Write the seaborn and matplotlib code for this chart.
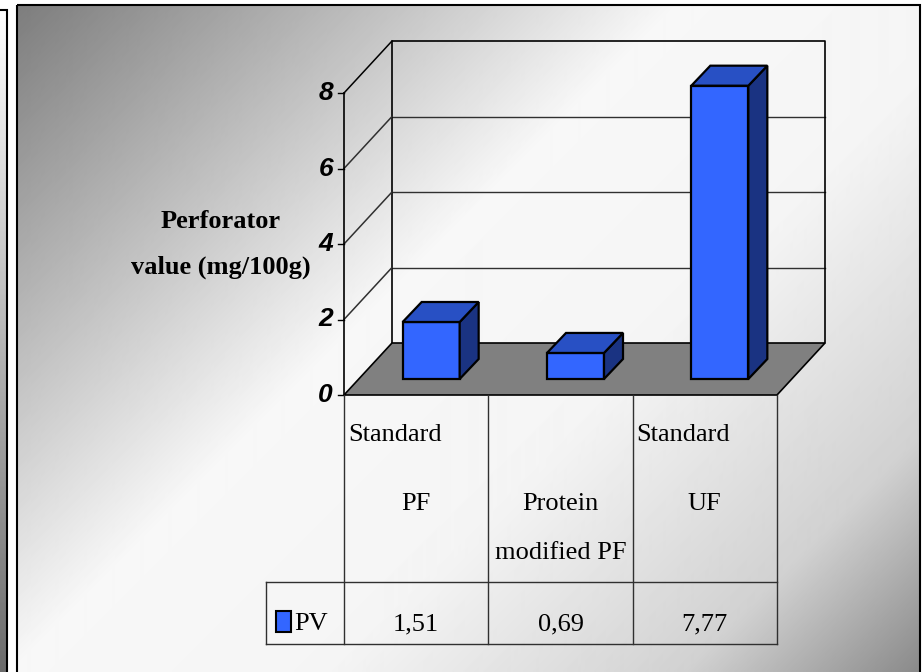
import numpy as np
import matplotlib
matplotlib.use("Agg")
import matplotlib.pyplot as plt
from matplotlib.patches import Polygon, Rectangle
import seaborn as sns

# ---- data -------------------------------------------------------------
categories = ["Standard PF", "Protein modified PF", "Standard UF"]
pv_values = [1.51, 0.69, 7.77]
series_name = "PV"
y_ticks = [0, 2, 4, 6, 8]
y_label_lines = ["Perforator", "value (mg/100g)"]
# header text of each data-table column: (text, line slot, alignment)
header_lines = [
    [("Standard", 0, "left"), ("PF", 1, "center")],
    [("Protein", 1, "center"), ("modified PF", 2, "center")],
    [("Standard", 0, "left"), ("UF", 1, "center")],
]

# ---- style ------------------------------------------------------------
sns.set_theme(style="white")
plt.rcParams["font.family"] = ["Liberation Serif", "DejaVu Serif"]
plt.rcParams["text.color"] = "black"

FRONT_C = "#3366FF"
TOP_C = "#2850C4"
SIDE_C = "#1A3382"
FLOOR_C = "#808080"
GRID_C = "#303030"
TXT_SIZE = 19

W, H, DPI = 922, 672, 100
fig = plt.figure(figsize=(W / DPI, H / DPI), dpi=DPI)
fig.patch.set_facecolor("white")

# ---- background (pixel coordinates) ----------------------------------
bg = fig.add_axes([0, 0, 1, 1])
bg.set_axis_off()

# chart area with a diagonal grey-white-grey gradient
cx0, cy0, cx1 = 17, 5, 920
xs = np.arange(cx0, cx1) + 0.5
ys = np.arange(cy0, H) + 0.5
X, Y = np.meshgrid(xs, ys)
t = ((X - cx0) + (Y - cy0)) / ((cx1 - cx0) + (H - cy0))
shade = np.interp(t, [0.0, 0.42, 0.62, 0.85, 1.0],
                  [0.49, 0.97, 0.96, 0.82, 0.54])
bg.imshow(shade, cmap="gray", vmin=0, vmax=1, extent=(cx0, cx1, H, cy0),
          interpolation="bilinear", zorder=0)
bg.add_patch(Rectangle((cx0, cy0), cx1 - cx0, H + 20, fill=False,
                       edgecolor="black", lw=1.5, zorder=1))

# neighbouring panel strip at the far left
ys2 = np.arange(9, H) + 0.5
strip = np.interp(ys2, [9, H], [1.0, 0.42])[:, None] * np.ones((1, 7))
bg.imshow(strip, cmap="gray", vmin=0, vmax=1, extent=(0, 7, H, 9),
          interpolation="bilinear", zorder=0)
bg.add_patch(Rectangle((-5, 9.5), 12, H + 20, fill=False,
                       edgecolor="black", lw=1.5, zorder=1))

bg.set_xlim(0, W)
bg.set_ylim(H, 0)
bg.set_aspect("auto")

# y-axis title
for txt, yy in zip(y_label_lines, [222, 267]):
    bg.text(221, yy, txt, ha="center", va="center", fontsize=19,
            fontweight="bold", color="black")

# ---- bar plane axes --------------------------------------------------
ax = fig.add_axes([359 / W, (H - 379) / H, 433 / W, 302 / H])
ax.patch.set_alpha(0)
sns.barplot(x=categories, y=pv_values, ax=ax, color=FRONT_C, saturation=1,
            width=0.395, edgecolor="black", linewidth=1.6, zorder=6)
bars = list(ax.patches)
for r in bars:
    r.set_clip_on(False)
ax.set_xlim(-0.5, 2.5)
ax.set_ylim(0, 8)
ax.set_axis_off()

# pixel -> data conversion for the oblique depth offsets
o = ax.transData.transform((0, 0))
sx = ax.transData.transform((1, 0))[0] - o[0]
sy = ax.transData.transform((0, 1))[1] - o[1]


def P(x, y, d=(0, 0)):
    return (x + d[0] / sx, y + d[1] / sy)


def seg(a, b, **kw):
    ax.plot([a[0], b[0]], [a[1], b[1]], clip_on=False,
            solid_capstyle="projecting", **kw)


FRONT = (-15, -16)   # front edge of the floor
BACK = (33, 36)      # back wall
DEPTH = (19, 20)     # bar depth
xl, xr = -0.5, 2.5
ymax = y_ticks[-1]

# back wall frame and gridlines
for v in y_ticks[1:-1]:
    seg(P(xl, v, BACK), P(xr, v, BACK), color=GRID_C, lw=1.0, zorder=1)
frame = [P(xl, 0, BACK), P(xl, ymax, BACK), P(xr, ymax, BACK), P(xr, 0, BACK)]
ax.plot([p[0] for p in frame], [p[1] for p in frame], color="black", lw=1.2,
        zorder=1, clip_on=False)

# side wall diagonals and front value axis
for v in y_ticks[1:]:
    seg(P(xl, v, FRONT), P(xl, v, BACK),
        color="black" if v == ymax else GRID_C, lw=1.1, zorder=1)
seg(P(xl, 0, FRONT), P(xl, ymax, FRONT), color="black", lw=1.2, zorder=3)
for v in y_ticks:
    seg(P(xl, v, FRONT), P(xl, v, (FRONT[0] - 6, FRONT[1])),
        color="black", lw=1.0, zorder=3)
    lp = P(xl, v, (FRONT[0] - 11, FRONT[1]))
    ax.text(lp[0], lp[1], f"{v:g}", ha="right", va="center", fontsize=19,
            fontweight="bold", fontstyle="italic",
            family=["Liberation Sans", "DejaVu Sans"], color="black")

# floor
floor = Polygon([P(xl, 0, FRONT), P(xr, 0, FRONT), P(xr, 0, BACK), P(xl, 0, BACK)],
                closed=True, facecolor=FLOOR_C, edgecolor="black", lw=1.2,
                zorder=2, clip_on=False)
ax.add_patch(floor)

# top and side faces of each bar, built from the seaborn rectangles
for r in bars:
    x, w, h = r.get_x(), r.get_width(), r.get_height()
    top = Polygon([(x, h), (x + w, h), P(x + w, h, DEPTH), P(x, h, DEPTH)],
                  closed=True, facecolor=TOP_C, edgecolor="black", lw=1.6,
                  zorder=6, clip_on=False)
    side = Polygon([(x + w, 0), (x + w, h), P(x + w, h, DEPTH), P(x + w, 0, DEPTH)],
                   closed=True, facecolor=SIDE_C, edgecolor="black", lw=1.6,
                   zorder=6, clip_on=False)
    ax.add_patch(side)
    ax.add_patch(top)

# ---- data table under the floor --------------------------------------
TBL_C = "#303030"
y_top = P(0, 0, FRONT)[1]
y_mid = y_top - 187 / sy
y_bot = y_top - 249 / sy
bounds = [P(c, 0, FRONT)[0] for c in (-0.5, 0.5, 1.5, 2.5)]
x_leg = bounds[0] - 78 / sx

for bx in bounds:
    seg((bx, y_top), (bx, y_bot), color=TBL_C, lw=1.0, zorder=3)
for yy in (y_mid, y_bot):
    seg((x_leg, yy), (bounds[-1], yy), color=TBL_C, lw=1.0, zorder=3)
seg((x_leg, y_mid), (x_leg, y_bot), color=TBL_C, lw=1.0, zorder=3)

slot_base = [46, 115, 164]
for i, lines in enumerate(header_lines):
    left = bounds[i]
    centre = (bounds[i] + bounds[i + 1]) / 2
    for txt, slot, align in lines:
        yy = y_top - slot_base[slot] / sy
        if align == "left":
            ax.text(left + 4 / sx, yy, txt, ha="left", va="baseline",
                    fontsize=TXT_SIZE, color="black")
        else:
            ax.text(centre, yy, txt, ha="center", va="baseline",
                    fontsize=TXT_SIZE, color="black")

y_val = y_top - 235 / sy
for i, v in enumerate(pv_values):
    centre = (bounds[i] + bounds[i + 1]) / 2
    ax.text(centre, y_val, f"{v:.2f}".replace(".", ","), ha="center",
            va="baseline", fontsize=TXT_SIZE, color="black")

# legend key inside the table
ax.add_patch(Rectangle((x_leg + 10 / sx, y_top - 237 / sy), 15 / sx, 21 / sy,
                       facecolor=FRONT_C, edgecolor="black", lw=1.5, zorder=4,
                       clip_on=False))
ax.text(x_leg + 28 / sx, y_val, series_name, ha="left", va="baseline",
        fontsize=TXT_SIZE, color="black")

fig.savefig("out.png", dpi=DPI)
